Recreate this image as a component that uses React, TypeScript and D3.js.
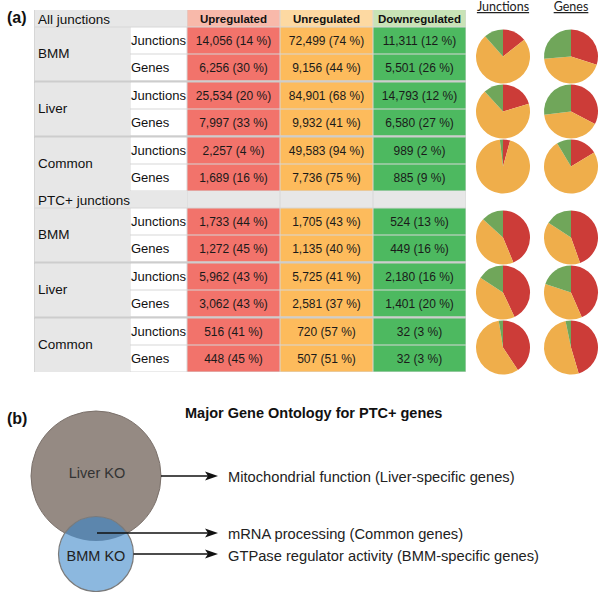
import React from "react";
import * as d3 from "d3";

const sections = ["All junctions", "PTC+ junctions"];
const groups = ["BMM", "Liver", "Common"];
const subRows = ["Junctions", "Genes"];
const columns = ["Upregulated", "Unregulated", "Downregulated"];

// All junctions: order BMM-J, BMM-G, Liver-J, Liver-G, Common-J, Common-G
const allUp = [14056, 6256, 25534, 7997, 2257, 1689];
const allUn = [72499, 9156, 84901, 9932, 49583, 7736];
const allDown = [11311, 5501, 14793, 6580, 989, 885];
const allUpPct = [14, 30, 20, 33, 4, 16];
const allUnPct = [74, 44, 68, 41, 94, 75];
const allDownPct = [12, 26, 12, 27, 2, 9];

// PTC+ junctions
const ptcUp = [1733, 1272, 5962, 3062, 516, 448];
const ptcUn = [1705, 1135, 5725, 2581, 720, 507];
const ptcDown = [524, 449, 2180, 1401, 32, 32];
const ptcUpPct = [44, 45, 43, 43, 41, 45];
const ptcUnPct = [43, 40, 41, 37, 57, 51];
const ptcDownPct = [13, 16, 16, 20, 3, 3];

const pieHeadings = ["Junctions", "Genes"];

const vennSets = ["Liver KO", "BMM KO"];
const goTitle = "Major Gene Ontology for PTC+ genes";
const goTerms = [
  "Mitochondrial function (Liver-specific genes)",
  "mRNA processing (Common genes)",
  "GTPase regulator activity (BMM-specific genes)",
];

const sectionValues = [
  [allUp, allUn, allDown],
  [ptcUp, ptcUn, ptcDown],
];
const sectionPcts = [
  [allUpPct, allUnPct, allDownPct],
  [ptcUpPct, ptcUnPct, ptcDownPct],
];

const FONT = "'Liberation Sans', Arial, Helvetica, sans-serif";
const cellColors = ["#f2736b", "#fdbb5c", "#4db960"];
const headColors = ["#f8b9aa", "#fdd9a2", "#c9e3b6"];
const pieColors = ["#cc3c38", "#efae4b", "#70a65a"];

export default function App() {
  const W = 600;
  const H = 592;
  const colX = [34, 130, 187, 280, 373, 466];
  const sectionTop = [10, 191];
  const headH = 17;
  const groupPitch = 55;
  const rowH = 27;
  const fmt = d3.format(",");

  const pie = d3
    .pie<number>()
    .sort(null)
    .value((d) => d);
  const arc = d3.arc<d3.PieArcDatum<number>>().innerRadius(0).outerRadius(27);
  const pieX = d3.scalePoint<string>().domain(pieHeadings).range([503, 571]);

  const els: React.ReactNode[] = [];

  els.push(
    <rect key="bg" x={colX[0]} y={sectionTop[0]} width={colX[5] - colX[0]} height={372 - sectionTop[0]} fill="#d6d6d6" />
  );

  sections.forEach((sec, s) => {
    const top = sectionTop[s];
    els.push(
      <rect key={`sh${s}`} x={colX[0] + 1} y={top} width={colX[2] - colX[0] - 1} height={headH - 0.5} fill="#e7e7e7" />
    );
    els.push(
      <text key={`sht${s}`} x={38} y={top + 9} dominantBaseline="central" fontSize={13.5} fontFamily={FONT} fill="#111">
        {sec}
      </text>
    );
    columns.forEach((c, ci) => {
      els.push(
        <rect
          key={`ch${s}${ci}`}
          x={colX[ci + 2] + 0.5}
          y={top}
          width={colX[ci + 3] - colX[ci + 2] - 1}
          height={headH - 0.5}
          fill={s === 0 ? headColors[ci] : "#e7e7e7"}
        />
      );
      if (s === 0)
        els.push(
          <text
            key={`cht${ci}`}
            x={(colX[ci + 2] + colX[ci + 3]) / 2}
            y={top + 8.5}
            dominantBaseline="central"
            textAnchor="middle"
            fontSize={11.5}
            fontWeight="bold"
            fontFamily={FONT}
            fill="#111"
          >
            {c}
          </text>
        );
    });

    groups.forEach((g, gi) => {
      const gy = top + headH + gi * groupPitch;
      els.push(
        <rect key={`g${s}${gi}`} x={colX[0] + 1} y={gy + 0.5} width={colX[1] - colX[0] - 1} height={rowH * 2 - 0.5} fill="#e7e7e7" />
      );
      els.push(
        <text key={`gt${s}${gi}`} x={38} y={gy + rowH - 1} dominantBaseline="central" fontSize={13.5} fontFamily={FONT} fill="#111">
          {g}
        </text>
      );
      pieHeadings.forEach((ph, ri) => {
        const idx = gi * 2 + ri;
        const ry = gy + ri * rowH;
        els.push(
          <rect key={`sr${s}${idx}`} x={colX[1] + 0.5} y={ry + 0.5} width={colX[2] - colX[1] - 1} height={rowH - 1} fill="#ffffff" />
        );
        els.push(
          <text key={`srt${s}${idx}`} x={colX[1] + 1} y={ry + rowH / 2} dominantBaseline="central" fontSize={13} fontFamily={FONT} fill="#111">
            {subRows[ri]}
          </text>
        );
        columns.forEach((c, ci) => {
          els.push(
            <rect
              key={`v${s}${idx}${ci}`}
              x={colX[ci + 2] + 0.5}
              y={ry + 0.5}
              width={colX[ci + 3] - colX[ci + 2] - 1}
              height={rowH - 1}
              fill={cellColors[ci]}
            />
          );
          els.push(
            <text
              key={`vt${s}${idx}${ci}`}
              x={(colX[ci + 2] + colX[ci + 3]) / 2}
              y={ry + rowH / 2}
              dominantBaseline="central"
              textAnchor="middle"
              fontSize={12}
              fontFamily={FONT}
              fill="#1a1a1a"
            >
              {`${fmt(sectionValues[s][ci][idx])} (${sectionPcts[s][ci][idx]} %)`}
            </text>
          );
        });
        const vals = [sectionValues[s][0][idx], sectionValues[s][1][idx], sectionValues[s][2][idx]];
        const arcs = pie(vals);
        els.push(
          <g key={`pie${s}${idx}`} transform={`translate(${pieX(ph)},${gy + 29.5})`}>
            {arcs.map((a, ai) => (
              <path key={ai} d={arc(a) || ""} fill={pieColors[ai]} />
            ))}
          </g>
        );
      });
      if (gi < groups.length - 1) {
        els.push(
          <rect key={`sep${s}${gi}`} x={colX[0]} y={gy + 2 * rowH - 0.5} width={colX[5] - colX[0]} height={2.5} fill="#cdcdcd" />
        );
      }
    });
  });

  const liver = { cx: 96, cy: 476, r: 65 };
  const bmm = { cx: 96, cy: 554, r: 37.5 };
  const arrowYs = [476, 533, 554];
  const arrowX0 = [liver.cx + liver.r, 97, bmm.cx + bmm.r];
  const arrowTip = 218;
  const textYs = [477, 534, 556];

  return (
    <svg width={W} height={H} style={{ position: "absolute", left: 0, top: 0 }}>
      <rect width={W} height={H} fill="#fff" />
      <text x={7} y={23} fontSize={16} fontWeight="bold" fontFamily={FONT} fill="#111">
        (a)
      </text>
      {els}
      {pieHeadings.map((ph) => (
        <text
          key={ph}
          x={pieX(ph)}
          y={11}
          textAnchor="middle"
          fontSize={12.5}
          fontFamily="Lato, 'Open Sans', sans-serif"
          fill="#222"
          style={{ textDecoration: "underline" }}
        >
          {ph}
        </text>
      ))}

      <text x={7} y={424} fontSize={16} fontWeight="bold" fontFamily={FONT} fill="#111">
        (b)
      </text>
      <text x={185} y={418} fontSize={14.5} fontWeight="bold" fontFamily={FONT} fill="#111">
        {goTitle}
      </text>
      <defs>
        <clipPath id="liverClip">
          <circle cx={liver.cx} cy={liver.cy} r={liver.r} />
        </clipPath>
      </defs>
      <circle cx={liver.cx} cy={liver.cy} r={liver.r} fill="#958a83" stroke="#7b716b" strokeWidth={1} />
      <circle cx={bmm.cx} cy={bmm.cy} r={bmm.r} fill="#8cb8df" />
      <circle cx={bmm.cx} cy={bmm.cy} r={bmm.r} fill="#5c86ad" clipPath="url(#liverClip)" />
      <circle cx={bmm.cx} cy={bmm.cy} r={bmm.r} fill="none" stroke="#7a7a7a" strokeWidth={1.2} />
      <text x={liver.cx + 1} y={liver.cy - 3} textAnchor="middle" dominantBaseline="central" fontSize={14.5} fontFamily={FONT} fill="#333">
        {vennSets[0]}
      </text>
      <text x={bmm.cx} y={bmm.cy + 2} textAnchor="middle" dominantBaseline="central" fontSize={14.5} fontFamily={FONT} fill="#222">
        {vennSets[1]}
      </text>
      {goTerms.map((t, i) => (
        <g key={t}>
          <line x1={arrowX0[i]} y1={arrowYs[i]} x2={arrowTip - 6} y2={arrowYs[i]} stroke="#111" strokeWidth={1.3} />
          <path
            d={`M${arrowTip},${arrowYs[i]} L${arrowTip - 13},${arrowYs[i] - 4.5} L${arrowTip - 10},${arrowYs[i]} L${arrowTip - 13},${arrowYs[i] + 4.5} Z`}
            fill="#111"
          />
          <text x={228} y={textYs[i]} dominantBaseline="central" fontSize={14.7} fontFamily={FONT} fill="#222">
            {t}
          </text>
        </g>
      ))}
    </svg>
  );
}
